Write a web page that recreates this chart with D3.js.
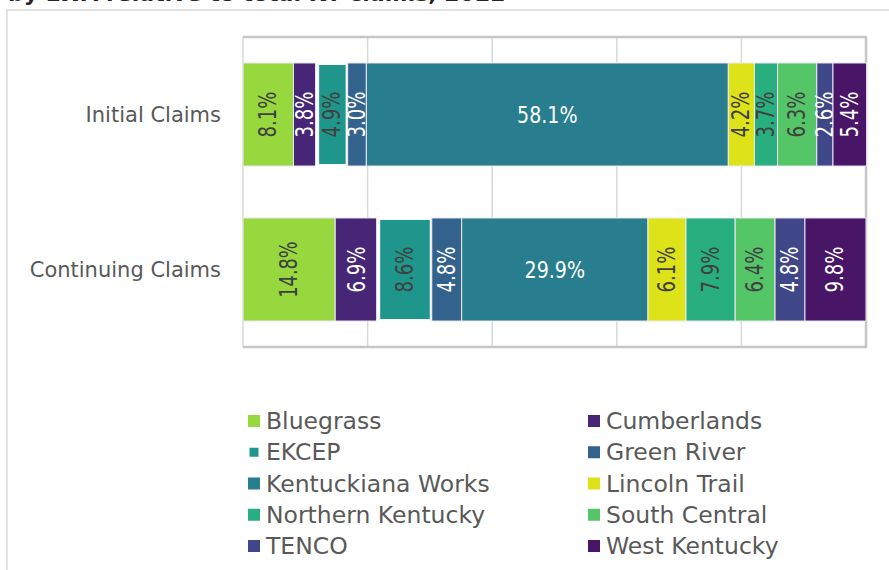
<!DOCTYPE html>
<html>
<head>
<meta charset="utf-8">
<script src="https://cdn.jsdelivr.net/npm/d3@7"></script>
<style>
  body { margin: 0; background: #fff; }
  svg { display: block; font-family: "DejaVu Sans", sans-serif; }
</style>
</head>
<body>
<svg id="chart" width="889" height="570"></svg>
<script>
// categories (rows) and regions (stack order)
const categories = ["Initial Claims", "Continuing Claims"];
const regions = ["Bluegrass", "Cumberlands", "EKCEP", "Green River", "Kentuckiana Works",
                 "Lincoln Trail", "Northern Kentucky", "South Central", "TENCO", "West Kentucky"];
const initialShare = [8.1, 3.8, 4.9, 3.0, 58.1, 4.2, 3.7, 6.3, 2.6, 5.4];
const continuingShare = [14.8, 6.9, 8.6, 4.8, 29.9, 6.1, 7.9, 6.4, 4.8, 9.8];
const xTicks = [0, 20, 40, 60, 80, 100];
const titleText = "by LWA relative to total KY claims, 2022";

const colors = ["#97d83f", "#482677", "#1f968b", "#33638d", "#287d8e",
                "#dde318", "#29af7f", "#55c667", "#404788", "#481567"];
const darkLabel = new Set(["Bluegrass", "EKCEP", "Lincoln Trail", "Northern Kentucky", "South Central"]);

const svg = d3.select("#chart");

// outer frame + title (cut off at the top, as in the source)
svg.append("rect")
    .attr("x", 7).attr("y", 10)
    .attr("width", 900).attr("height", 600)
    .attr("fill", "none").attr("stroke", "#d9d9d9").attr("stroke-width", 1.5);

svg.append("text")
    .attr("x", 8).attr("y", 1)
    .attr("font-size", 22).attr("font-weight", "bold")
    .attr("fill", "#262626")
    .text(titleText);

const x = d3.scaleLinear().domain([0, 100]).range([243, 866]);
const y = d3.scaleBand().domain(categories).range([37, 347])
    .paddingInner(0.335).paddingOuter(0.1675);

// gridlines
svg.append("g").selectAll("line")
    .data(xTicks)
    .join("line")
    .attr("x1", d => x(d)).attr("x2", d => x(d))
    .attr("y1", 37).attr("y2", 347)
    .attr("stroke", "#d9d9d9").attr("stroke-width", 1.5);

// plot frame (top, right, bottom slightly darker)
const frame = svg.append("g").attr("stroke", "#c6c6c6").attr("stroke-width", 2.5);
frame.append("line").attr("x1", x(0)).attr("x2", x(100) + 1).attr("y1", 37).attr("y2", 37);
frame.append("line").attr("x1", x(100)).attr("x2", x(100)).attr("y1", 37).attr("y2", 348);
frame.append("line").attr("x1", x(0)).attr("x2", x(100) + 1).attr("y1", 347).attr("y2", 347);

// stack data
const table = categories.map((c, i) => {
    const vals = i === 0 ? initialShare : continuingShare;
    const row = { category: c };
    regions.forEach((r, j) => row[r] = vals[j]);
    return row;
});
const series = d3.stack().keys(regions)(table);

const bars = svg.append("g");
series.forEach((s, si) => {
    const key = s.key;
    const horiz = key === "Kentuckiana Works";
    const g = bars.append("g");
    g.selectAll("rect")
        .data(s)
        .join("rect")
        .attr("x", d => x(d[0]))
        .attr("y", d => y(d.data.category))
        .attr("width", d => x(d[1]) - x(d[0]))
        .attr("height", y.bandwidth())
        .attr("fill", colors[si])
        .attr("stroke", key === "EKCEP" ? "#ffffff" : "#eeeaf4")
        .attr("stroke-width", key === "EKCEP" ? 4 : 1);

    g.selectAll("text")
        .data(s)
        .join("text")
        .attr("transform", d => {
            const cx = (x(d[0]) + x(d[1])) / 2;
            const cy = y(d.data.category) + y.bandwidth() / 2;
            return horiz ? `translate(${cx},${cy})` : `translate(${cx},${cy}) rotate(-90)`;
        })
        .attr("text-anchor", "middle")
        .attr("dominant-baseline", "central")
        .attr("font-size", horiz ? 23 : 24)
        .attr("fill", darkLabel.has(key) ? "#404040" : "#ffffff")
        .text(d => (d[1] - d[0]).toFixed(1) + "%")
        // the source font is narrow, squeeze to its measured run length
        .attr("textLength", function() { return this.textContent.length * 10.5 + (horiz ? 8 : 4); })
        .attr("lengthAdjust", "spacingAndGlyphs");
});

// category labels
svg.append("g").selectAll("text")
    .data(categories)
    .join("text")
    .attr("x", 221)
    .attr("y", d => y(d) + y.bandwidth() / 2)
    .attr("text-anchor", "end")
    .attr("dominant-baseline", "central")
    .attr("font-size", 21)
    .attr("fill", "#595959")
    .text(d => d);

// legend, two columns
const legendRow = d3.scalePoint().domain(d3.range(5)).range([421, 546]);
const legendCol = [248, 588];
const legend = svg.append("g").selectAll("g")
    .data(regions)
    .join("g")
    .attr("transform", (d, i) => `translate(${legendCol[i % 2]},${legendRow(Math.floor(i / 2))})`);

legend.append("rect")
    .attr("x", 0).attr("y", -6)
    .attr("width", 12).attr("height", 12)
    .attr("fill", (d, i) => colors[i])
    .attr("stroke", d => d === "EKCEP" ? "#ffffff" : "none")
    .attr("stroke-width", d => d === "EKCEP" ? 3 : 0);

legend.append("text")
    .attr("x", 18).attr("y", 0)
    .attr("dominant-baseline", "central")
    .attr("font-size", 23.5)
    .attr("fill", "#595959")
    .text(d => d);
</script>
</body>
</html>
